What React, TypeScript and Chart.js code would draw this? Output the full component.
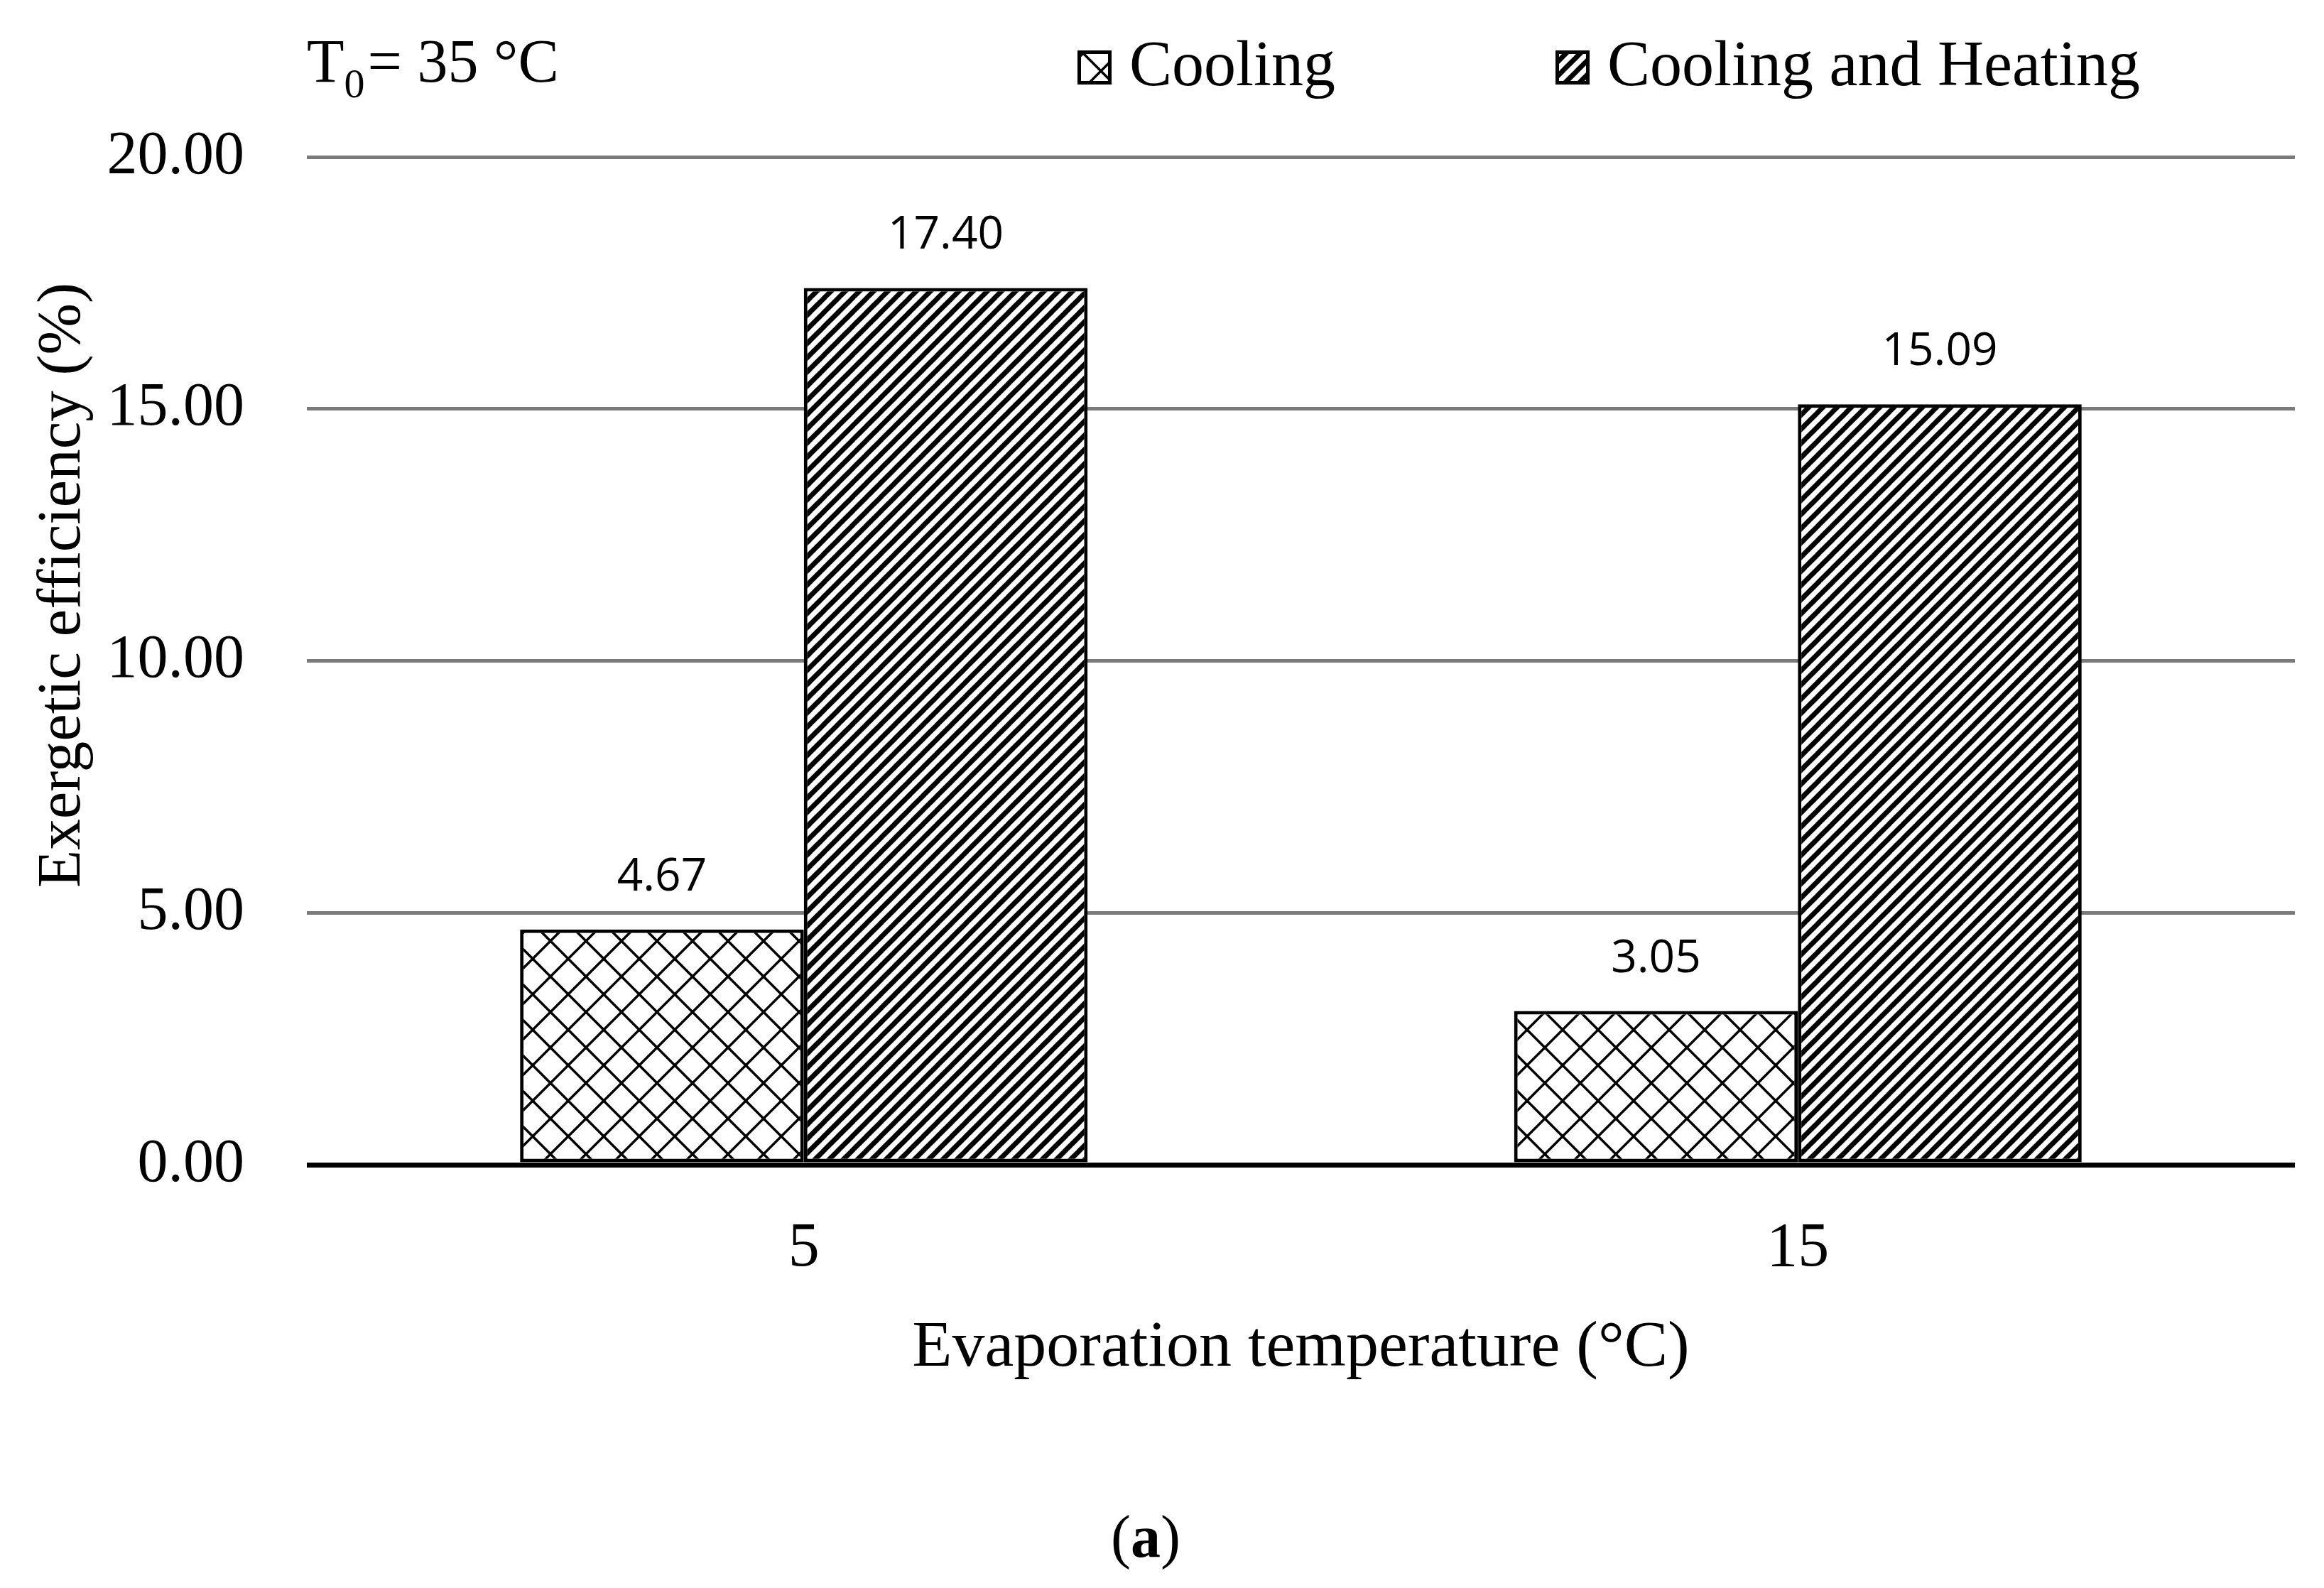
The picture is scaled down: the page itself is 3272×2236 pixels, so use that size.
import React, { useEffect, useRef } from 'react';
import { Chart, registerables } from 'chart.js';

Chart.register(...registerables);

// ---- data ----
const categories = ['5', '15'];
const seriesNames = ['Cooling', 'Cooling and Heating'];
const coolingValues = [4.67, 3.05];
const coolingHeatingValues = [17.4, 15.09];
const yMin = 0;
const yMax = 20;
const yStep = 5;
const xTitle = 'Evaporation temperature (°C)';
const yTitle = 'Exergetic efficiency (%)';
const noteMain = 'T';
const noteSub = '0';
const noteRest = '= 35 °C';
const panelLetter = 'a';

const SERIF = '"Liberation Serif", "Times New Roman", serif';
const SANS = '"Open Sans", "Liberation Sans", sans-serif';

function makeCrossPattern(): CanvasPattern | string {
  const s = 50;
  const c = document.createElement('canvas');
  c.width = s;
  c.height = s;
  const g = c.getContext('2d');
  if (!g) return '#fff';
  g.fillStyle = '#ffffff';
  g.fillRect(0, 0, s, s);
  g.strokeStyle = '#000000';
  g.lineWidth = 3.5;
  g.lineCap = 'square';
  for (let k = -1; k <= 2; k++) {
    g.beginPath();
    g.moveTo(-s, -s + k * s);
    g.lineTo(2 * s, 2 * s + k * s);
    g.stroke();
    g.beginPath();
    g.moveTo(-s, 2 * s + (k - 1) * s);
    g.lineTo(2 * s, -s + (k - 1) * s);
    g.stroke();
  }
  const p = g.createPattern(c, 'repeat');
  return p || '#fff';
}

function makeHatchPattern(): CanvasPattern | string {
  const s = 20;
  const c = document.createElement('canvas');
  c.width = s;
  c.height = s;
  const g = c.getContext('2d');
  if (!g) return '#000';
  g.fillStyle = '#ffffff';
  g.fillRect(0, 0, s, s);
  g.strokeStyle = '#000000';
  g.lineWidth = 7;
  for (let k = -1; k <= 1; k++) {
    g.beginPath();
    g.moveTo(k * s - 2, s + 2);
    g.lineTo(k * s + s + 2, -2);
    g.stroke();
  }
  const p = g.createPattern(c, 'repeat');
  return p || '#000';
}

const valueLabelPlugin = {
  id: 'valueLabels',
  afterDatasetsDraw(chart: any) {
    const ctx = chart.ctx;
    ctx.save();
    ctx.font = `64px ${SANS}`;
    ctx.fillStyle = '#000';
    ctx.textAlign = 'center';
    ctx.textBaseline = 'alphabetic';
    chart.data.datasets.forEach((ds: any, di: number) => {
      const meta = chart.getDatasetMeta(di);
      meta.data.forEach((el: any, i: number) => {
        const v = ds.data[i];
        ctx.fillText(Number(v).toFixed(2), el.x, el.y - 55);
      });
    });
    ctx.restore();
  },
};

const decorPlugin = {
  id: 'decor',
  afterDraw(chart: any) {
    const ctx = chart.ctx;
    const area = chart.chartArea;
    ctx.save();
    ctx.fillStyle = '#000';

    // note T0 = 35 °C
    ctx.textAlign = 'left';
    ctx.textBaseline = 'alphabetic';
    let x = area.left;
    ctx.font = `86px ${SERIF}`;
    ctx.fillText(noteMain, x, 115);
    x += ctx.measureText(noteMain).width;
    ctx.font = `58px ${SERIF}`;
    ctx.fillText(noteSub, x, 137);
    x += ctx.measureText(noteSub).width + 4;
    ctx.font = `86px ${SERIF}`;
    ctx.fillText(noteRest, x, 115);

    // legend
    const legendX = [1517, 2190];
    chart.data.datasets.forEach((ds: any, i: number) => {
      const bx = legendX[i];
      const by = 71;
      const bs = 48;
      ctx.fillStyle = ds.backgroundColor;
      ctx.fillRect(bx, by, bs, bs);
      ctx.strokeStyle = '#000';
      ctx.lineWidth = 5;
      ctx.strokeRect(bx + 2.5, by + 2.5, bs - 5, bs - 5);
      ctx.fillStyle = '#000';
      ctx.font = `90px ${SERIF}`;
      ctx.textAlign = 'left';
      ctx.textBaseline = 'alphabetic';
      ctx.fillText(ds.label, bx + 73, 120);
    });

    // y title
    ctx.save();
    ctx.translate(89, 824);
    ctx.rotate(-Math.PI / 2);
    ctx.font = `87px ${SERIF}`;
    ctx.textAlign = 'center';
    ctx.textBaseline = 'middle';
    ctx.fillText(yTitle, 0, 0);
    ctx.restore();

    // panel letter (a)
    ctx.font = `84px ${SERIF}`;
    const wOpen = ctx.measureText('(').width;
    const wClose = ctx.measureText(')').width;
    ctx.font = `bold 84px ${SERIF}`;
    const wA = ctx.measureText(panelLetter).width;
    const total = wOpen + wA + wClose;
    let px = 1613 - total / 2;
    const py = 2170;
    ctx.textAlign = 'left';
    ctx.textBaseline = 'middle';
    ctx.font = `84px ${SERIF}`;
    ctx.fillText('(', px, py);
    px += wOpen;
    ctx.font = `bold 84px ${SERIF}`;
    ctx.fillText(panelLetter, px, py);
    px += wA;
    ctx.font = `84px ${SERIF}`;
    ctx.fillText(')', px, py);

    ctx.restore();
  },
};

export default function App() {
  const canvasRef = useRef<HTMLCanvasElement | null>(null);

  useEffect(() => {
    const canvas = canvasRef.current;
    if (!canvas) return;
    const crossPattern = makeCrossPattern();
    const hatchPattern = makeHatchPattern();

    const chart = new Chart(canvas, {
      type: 'bar',
      data: {
        labels: categories,
        datasets: [
          {
            label: seriesNames[0],
            data: coolingValues,
            backgroundColor: crossPattern as any,
            borderColor: '#000',
            borderWidth: 5,
            borderSkipped: false,
            categoryPercentage: 0.571,
            barPercentage: 1.0,
          },
          {
            label: seriesNames[1],
            data: coolingHeatingValues,
            backgroundColor: hatchPattern as any,
            borderColor: '#000',
            borderWidth: 5,
            borderSkipped: false,
            categoryPercentage: 0.571,
            barPercentage: 1.0,
          },
        ],
      },
      options: {
        animation: false,
        responsive: false,
        devicePixelRatio: 1,
        layout: { padding: { top: 221, right: 41, left: 0, bottom: 0 } },
        plugins: {
          legend: { display: false },
          tooltip: { enabled: false },
          title: { display: false },
        },
        scales: {
          x: {
            grid: { display: false, drawTicks: false },
            border: { display: false },
            ticks: {
              color: '#000',
              font: { family: SERIF, size: 88 },
              padding: 66,
            },
            title: {
              display: true,
              text: xTitle,
              color: '#000',
              font: { family: SERIF, size: 92 },
              padding: { top: 0, bottom: 282 },
            },
            afterFit: (s: any) => {
              s.height = 596;
            },
          },
          y: {
            min: yMin,
            max: yMax,
            border: { display: false },
            grid: {
              drawTicks: false,
              tickLength: 0,
              color: (c: any) => (c.tick && c.tick.value === 0 ? '#000000' : '#7a7a7a'),
              lineWidth: (c: any) => (c.tick && c.tick.value === 0 ? 7 : 5),
            },
            ticks: {
              stepSize: yStep,
              color: '#000',
              font: { family: SERIF, size: 86 },
              padding: 88,
              callback: (v: any) => Number(v).toFixed(2),
            },
            afterFit: (s: any) => {
              s.width = 432;
            },
          },
        },
      } as any,
      plugins: [valueLabelPlugin, decorPlugin],
    });

    return () => {
      chart.destroy();
    };
  }, []);

  return (
    <div
      style={{
        position: 'absolute',
        left: 0,
        top: 0,
        width: 3272,
        height: 2236,
        background: '#ffffff',
      }}
    >
      <canvas ref={canvasRef} width={3272} height={2236} style={{ width: 3272, height: 2236, display: 'block' }} />
    </div>
  );
}
